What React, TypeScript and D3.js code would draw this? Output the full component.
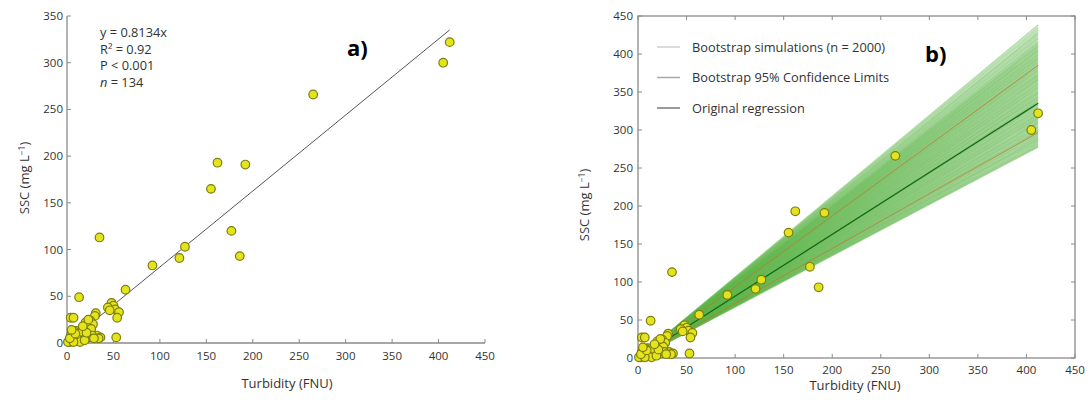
import React from "react";
import * as d3 from "d3";

// Observations: [turbidity (FNU), SSC (mg/L)]
const turbidity = [412, 405, 265, 162, 192, 155, 177, 186, 127, 121, 92, 35, 63, 13, 48, 50, 52, 56, 54, 53, 31, 30, 4, 7, 25, 20, 28, 22, 26, 32, 36, 34, 18, 15, 10, 8, 12, 5, 3, 2, 6, 9, 1, 4, 11, 14, 16, 24, 27, 19, 7, 3, 21, 29, 44, 46, 23, 17, 9, 5];
const ssc = [322, 300, 266, 193, 191, 165, 120, 93, 103, 91, 83, 113, 57, 49, 43, 40, 36, 33, 27, 6, 32, 29, 27, 27, 24, 22, 20, 17, 15, 8, 6, 5, 9, 5, 13, 12, 7, 3, 1, 2, 6, 2, 1, 8, 4, 1, 12, 6, 8, 3, 1, 5, 11, 5, 38, 35, 25, 18, 10, 14];

const regressionSlope = 0.8134;
const ciSlopes = [0.72, 0.935];
const maxTurbidity = 412;

// Bootstrap slope samples (subset read from the fan)
const bootstrapSlopes = [
  1.063, 1.055, 1.048, 1.041, 1.036, 1.03, 1.024, 1.019, 1.013, 1.008, 1.004, 0.999, 0.996, 0.992,
  0.988, 0.984, 0.981, 0.977, 0.973, 0.969, 0.966, 0.962, 0.958, 0.955, 0.951, 0.947, 0.944,
  0.94, 0.936, 0.932, 0.929, 0.925, 0.921, 0.918, 0.914, 0.91, 0.906, 0.903, 0.899, 0.895,
  0.891, 0.888, 0.884, 0.88, 0.876, 0.873, 0.869, 0.865, 0.862, 0.858, 0.854, 0.85, 0.847,
  0.843, 0.839, 0.835, 0.832, 0.828, 0.824, 0.82, 0.817, 0.813, 0.809, 0.806, 0.802, 0.798,
  0.794, 0.791, 0.787, 0.783, 0.779, 0.776, 0.772, 0.768, 0.765, 0.761, 0.757, 0.753, 0.75,
  0.746, 0.742, 0.738, 0.735, 0.731, 0.727, 0.724, 0.72, 0.716, 0.712, 0.708, 0.704, 0.7,
  0.697, 0.693, 0.689, 0.685, 0.681, 0.677, 0.674,
];

const xTicks = [0, 50, 100, 150, 200, 250, 300, 350, 400, 450];
const yTicksA = [0, 50, 100, 150, 200, 250, 300, 350];
const yTicksB = [0, 50, 100, 150, 200, 250, 300, 350, 400, 450];

const statsLines = ["y = 0.8134x", "R² = 0.92", "P < 0.001", "n = 134"];
const legendItems = ["Bootstrap simulations (n = 2000)", "Bootstrap 95% Confidence Limits", "Original regression"];

const FONT = "'Open Sans', 'Noto Sans', sans-serif";
const AXIS = "#8a8a8a";
const TXT = "#333";

const points = turbidity.map((t, i) => ({ x: t, y: ssc[i] }));

function YLabel({ x, y }: { x: number; y: number }) {
  return (
    <text transform={`translate(${x},${y}) rotate(-90)`} textAnchor="middle" fontSize={13} fill={TXT} fontFamily={FONT}>
      SSC (mg L<tspan dy={-4} fontSize={8.5}>−1</tspan><tspan dy={4}>)</tspan>
    </text>
  );
}

function Points({ xs, ys }: { xs: d3.ScaleLinear<number, number>; ys: d3.ScaleLinear<number, number> }) {
  return (
    <g>
      {points.map((p, i) => (
        <circle key={i} cx={xs(p.x)} cy={ys(p.y)} r={4.3} fill="#e4e41c" stroke="#7d7d10" strokeWidth={1.2} />
      ))}
    </g>
  );
}

function PanelA() {
  const xs = d3.scaleLinear().domain([0, 450]).range([67, 485]);
  const ys = d3.scaleLinear().domain([0, 350]).range([343, 16]);
  const line = d3.line<number>().x((t) => xs(t)).y((t) => ys(regressionSlope * t));
  return (
    <g>
      <line x1={xs(0)} x2={xs(450)} y1={ys(0)} y2={ys(0)} stroke={AXIS} strokeWidth={1.3} />
      <line x1={xs(0)} x2={xs(0)} y1={ys(0)} y2={ys(350)} stroke={AXIS} strokeWidth={1.3} />
      {xTicks.map((t) => (
        <g key={t}>
          <line x1={xs(t)} x2={xs(t)} y1={ys(0)} y2={ys(0) - 4} stroke={AXIS} />
          <text x={xs(t)} y={ys(0) + 17} textAnchor="middle" fontSize={11.5} fill={TXT} fontFamily={FONT}>{t}</text>
        </g>
      ))}
      {yTicksA.map((t) => (
        <g key={t}>
          <line x1={xs(0)} x2={xs(0) + 4} y1={ys(t)} y2={ys(t)} stroke={AXIS} />
          <text x={xs(0) - 4} y={ys(t) + 4} textAnchor="end" fontSize={11.5} fill={TXT} fontFamily={FONT}>{t}</text>
        </g>
      ))}
      <path d={line([0, maxTurbidity]) || ""} stroke="#555" strokeWidth={1} fill="none" />
      <Points xs={xs} ys={ys} />
      {statsLines.map((s, i) => (
        <text key={i} x={100} y={37 + i * 16.7} fontSize={12.8} fill={TXT} fontFamily={FONT}>
          {i === 3 ? (<><tspan fontStyle="italic">n</tspan> = 134</>) : s}
        </text>
      ))}
      <text x={347} y={56} fontSize={22} fontWeight={700} fill="#000" fontFamily={FONT}>a)</text>
      <text x={287} y={388} textAnchor="middle" fontSize={13} fill={TXT} fontFamily={FONT}>Turbidity (FNU)</text>
      <YLabel x={29} y={178} />
    </g>
  );
}

function PanelB() {
  const xs = d3.scaleLinear().domain([0, 450]).range([638, 1075]);
  const ys = d3.scaleLinear().domain([0, 450]).range([358, 16]);
  const mk = (k: number) => d3.line<number>().x((t) => xs(t)).y((t) => ys(k * t))([0, maxTurbidity]) || "";
  return (
    <g>
      <rect x={xs(0)} y={ys(450)} width={xs(450) - xs(0)} height={ys(0) - ys(450)} fill="none" stroke={AXIS} strokeWidth={1.3} />
      {xTicks.map((t) => (
        <g key={t}>
          <line x1={xs(t)} x2={xs(t)} y1={ys(0)} y2={ys(0) - 4} stroke={AXIS} />
          <line x1={xs(t)} x2={xs(t)} y1={ys(450)} y2={ys(450) + 4} stroke={AXIS} />
          <text x={xs(t)} y={ys(0) + 16} textAnchor="middle" fontSize={11.5} fill={TXT} fontFamily={FONT}>{t}</text>
        </g>
      ))}
      {yTicksB.map((t) => (
        <g key={t}>
          <line x1={xs(0)} x2={xs(0) + 4} y1={ys(t)} y2={ys(t)} stroke={AXIS} />
          <line x1={xs(450)} x2={xs(450) - 4} y1={ys(t)} y2={ys(t)} stroke={AXIS} />
          <text x={xs(0) - 5} y={ys(t) + 4} textAnchor="end" fontSize={11.5} fill={TXT} fontFamily={FONT}>{t}</text>
        </g>
      ))}
      <g>
        {bootstrapSlopes.map((k, i) => (
          <path key={i} d={mk(k)} stroke="rgb(95,182,75)" strokeOpacity={0.45} strokeWidth={1.6} fill="none" />
        ))}
      </g>
      {ciSlopes.map((k, i) => (
        <path key={i} d={mk(k)} stroke="rgb(190,120,50)" strokeOpacity={0.75} strokeWidth={1} fill="none" />
      ))}
      <path d={mk(regressionSlope)} stroke="rgb(20,105,20)" strokeWidth={1.3} fill="none" />
      <Points xs={xs} ys={ys} />
      {legendItems.map((s, i) => (
        <g key={i}>
          <line x1={657} x2={680} y1={47 + i * 30.5} y2={47 + i * 30.5} stroke={["#cfcfcf", "#a8a8a8", "#7a7a7a"][i]} strokeWidth={1.5} />
          <text x={692} y={51.5 + i * 30.5} fontSize={12.8} fill={TXT} fontFamily={FONT}>{s}</text>
        </g>
      ))}
      <text x={925} y={62} fontSize={22} fontWeight={700} fill="#000" fontFamily={FONT}>b)</text>
      <text x={855} y={390} textAnchor="middle" fontSize={13} fill={TXT} fontFamily={FONT}>Turbidity (FNU)</text>
      <YLabel x={589} y={205} />
    </g>
  );
}

export default function App() {
  return (
    <svg width={1088} height={410} style={{ position: "absolute", left: 0, top: 0, background: "#fff" }}>
      <rect width={1088} height={410} fill="#fff" />
      <PanelA />
      <PanelB />
    </svg>
  );
}
